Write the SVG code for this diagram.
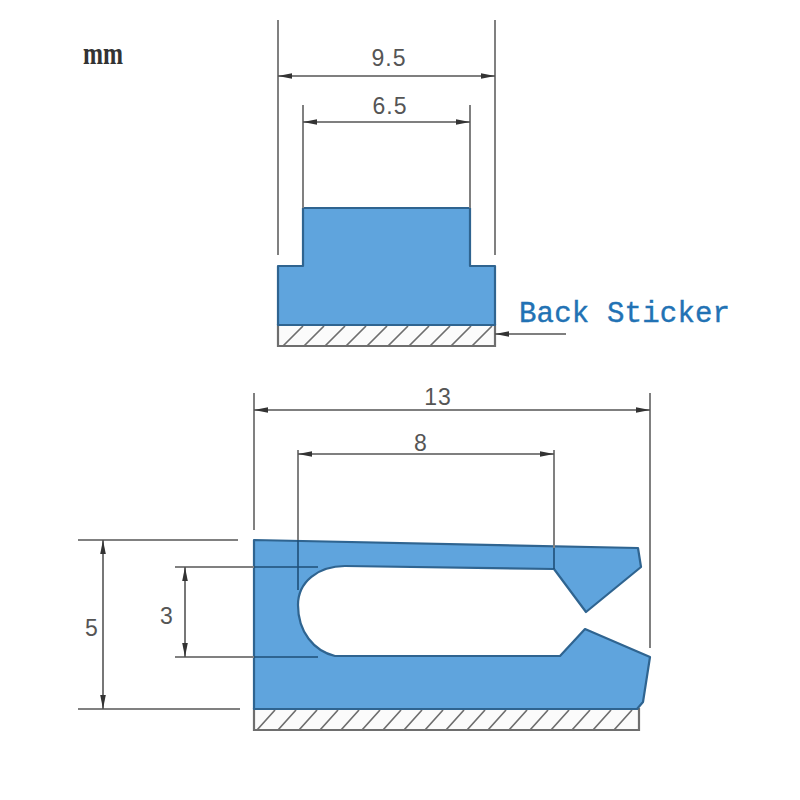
<svg xmlns="http://www.w3.org/2000/svg" width="800" height="800" viewBox="0 0 800 800">
<style>
.body{fill:#5fa4dd;stroke:#2f6490;stroke-width:2.2;stroke-linejoin:round}
.strip{fill:#fbfbfb;stroke:#6e6e6e;stroke-width:2.2}
.hatch{fill:none;stroke:#6e6e6e;stroke-width:1.7}
.ext{fill:none;stroke:#808080;stroke-width:2}
.ext2{fill:none;stroke:#1f4f78;stroke-width:1.6}
.dim{fill:none;stroke:#555;stroke-width:1.6;marker-start:url(#arr);marker-end:url(#arr)}
.lbl{font-family:"Liberation Sans",Arial,sans-serif;font-size:23px;fill:#555;text-anchor:middle;letter-spacing:1px}
</style>
<defs>
<marker id="arr" viewBox="0 0 14 8" refX="14" refY="4" markerWidth="14" markerHeight="8" markerUnits="userSpaceOnUse" orient="auto-start-reverse">
<path d="M0 1.2L14 4L0 6.8Z" fill="#333"/>
</marker>
</defs>
<rect width="800" height="800" fill="#fff"/>
<g id="unit-label"><text x="83" y="64" font-family="'Liberation Serif',serif" font-weight="bold" font-size="31" fill="#333" textLength="40" lengthAdjust="spacingAndGlyphs">mm</text></g>
<g id="top-profile">
<path class="strip" d="M278 325H495V346H278Z"/>
<path class="hatch" d="M283 346L303 326M304 346L324 326M325 346L345 326M346 346L366 326M367 346L387 326M388 346L408 326M409 346L429 326M430 346L450 326M451 346L471 326M472 346L492 326"/>
<path class="body" d="M303 208H470V266H495V325H278V266H303Z"/>
</g>
<g id="bottom-profile">
<path class="strip" d="M254 709H639V730H254Z"/>
<path class="hatch" d="M257 730L275 710M278 730L296 710M299 730L317 710M320 730L338 710M341 730L359 710M362 730L380 710M383 730L401 710M404 730L422 710M425 730L443 710M446 730L464 710M467 730L485 710M488 730L506 710M509 730L527 710M530 730L548 710M551 730L569 710M572 730L590 710M593 730L611 710M614 730L632 710"/>
<path class="body" d="M254 540L638 548L641 567L586 612L554 569L345 566C318 566 298 582 298 605C298 632 314 651 335 656L560 656L585 629L650 657L643 702L637 709H254Z"/>
</g>
<g id="connectors">
<path class="ext" d="M278 20V255M495 20V255M303 105V208M470 105V208"/>
<path class="dim" d="M278 76H495"/>
<path class="dim" d="M303 122H470"/>
<path class="ext" d="M254 393V530M650 393V648M298 450V540M554 450V548"/>
<path class="ext2" d="M298 540V590M554 548V569"/>
<path class="dim" d="M254 410H650"/>
<path class="dim" d="M298 454H554"/>
<path class="ext" d="M78 540H238M78 709H240M175 567H254M175 657H254"/>
<path class="ext2" d="M254 567H318M254 657H318"/>
<path class="dim" d="M103 540V709"/>
<path class="dim" d="M185 567V657"/>
<path d="M566 334H495" fill="none" stroke="#555" stroke-width="1.6" marker-end="url(#arr)"/>
</g>
<g id="labels">
<text class="lbl" x="389" y="66">9.5</text>
<text class="lbl" x="390" y="114">6.5</text>
<text class="lbl" x="438" y="405">13</text>
<text class="lbl" x="421" y="451">8</text>
<text class="lbl" x="92" y="636">5</text>
<text class="lbl" x="167" y="624">3</text>
<text x="519" y="322" font-family="'Liberation Mono',monospace" font-size="29" fill="#2272b4" stroke="#2272b4" stroke-width="0.4" textLength="211">Back Sticker</text>
</g>
</svg>
